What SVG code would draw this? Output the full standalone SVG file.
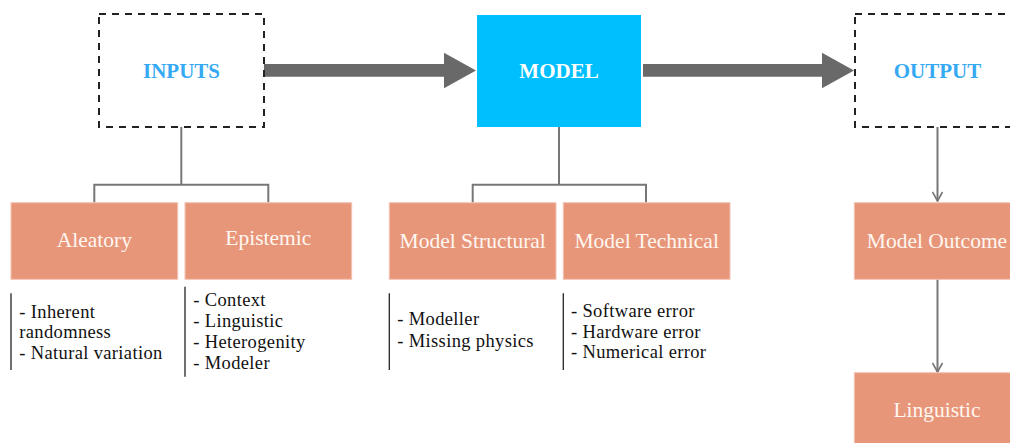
<svg xmlns="http://www.w3.org/2000/svg" width="1010" height="443" viewBox="0 0 1010 443">
  <style>
    .dash { fill: #ffffff; stroke: #222222; stroke-width: 2; stroke-dasharray: 7 6; }
    .title { font-family: "Liberation Serif", "Times New Roman", serif; font-weight: bold; font-size: 21px; text-anchor: middle; }
    .blue { fill: #36a9f4; }
    .cat { fill: #e8967a; stroke: #f3c3b3; stroke-width: 1; }
    .cat-label { font-family: "Liberation Serif", "Times New Roman", serif; font-size: 21.5px; fill: #fff6f0; text-anchor: middle; }
    .item { font-family: "Liberation Serif", "Times New Roman", serif; font-size: 18.5px; letter-spacing: 0.35px; fill: #111111; }
    .bar { stroke: #222222; stroke-width: 1.3; }
    .tree { fill: none; stroke: #777777; stroke-width: 2; }
    .big { fill: #696969; }
  </style>
  <defs>
    <marker id="vhead" viewBox="0 0 12 12" refX="10" refY="6" markerWidth="12" markerHeight="12" markerUnits="userSpaceOnUse" orient="auto">
      <path d="M1,1 L10,6 L1,11" fill="none" stroke="#777777" stroke-width="1.6"/>
    </marker>
  </defs>

  <!-- connectors -->
  <g id="connectors">
    <polygon class="big" points="264,64 444,64 444,52.7 476,70.5 444,88.3 444,76.7 264,76.7"/>
    <polygon class="big" points="643,64 822,64 822,52.7 854,70.5 822,88.3 822,76.7 643,76.7"/>
    <path class="tree" d="M181.3,127 V184.7 M94.3,202.7 V184.7 H268.3 V202.7"/>
    <path class="tree" d="M559,127 V184.7 M472.7,202.7 V184.7 H646 V202.7"/>
    <path class="tree" d="M937.5,127 V201" marker-end="url(#vhead)"/>
    <path class="tree" d="M937.5,279 V372" marker-end="url(#vhead)"/>
  </g>

  <!-- top row -->
  <g id="inputs">
    <rect class="dash" x="99" y="14" width="165" height="113"/>
    <text class="title blue" x="181.5" y="78">INPUTS</text>
  </g>
  <g id="model">
    <rect x="477" y="15" width="164" height="112" fill="#00bfff"/>
    <text class="title" x="559" y="78" fill="#ffffff">MODEL</text>
  </g>
  <g id="output">
    <rect class="dash" x="855" y="14" width="165" height="113"/>
    <text class="title blue" x="937.5" y="78">OUTPUT</text>
  </g>

  <!-- input uncertainty categories -->
  <g id="aleatory">
    <rect class="cat" x="11" y="202.7" width="166.7" height="76.6"/>
    <text class="cat-label" x="94.3" y="247">Aleatory</text>
  </g>
  <g id="epistemic">
    <rect class="cat" x="185" y="202.7" width="166.7" height="76.6"/>
    <text class="cat-label" x="268.3" y="245">Epistemic</text>
  </g>

  <!-- model uncertainty categories -->
  <g id="model-structural">
    <rect class="cat" x="389.3" y="202.7" width="166.7" height="76.6"/>
    <text class="cat-label" x="472.7" y="248">Model Structural</text>
  </g>
  <g id="model-technical">
    <rect class="cat" x="563.3" y="202.7" width="166.7" height="76.6"/>
    <text class="cat-label" x="646.7" y="248">Model Technical</text>
  </g>

  <!-- output uncertainty categories -->
  <g id="model-outcome">
    <rect class="cat" x="854.3" y="202.7" width="170" height="76.6"/>
    <text class="cat-label" x="937" y="248">Model Outcome</text>
  </g>
  <g id="linguistic">
    <rect class="cat" x="854.3" y="372.7" width="170" height="80"/>
    <text class="cat-label" x="937" y="417">Linguistic</text>
  </g>

  <!-- item lists -->
  <g id="aleatory-items">
    <line class="bar" x1="11" y1="293.3" x2="11" y2="370"/>
    <text class="item" x="19.3" y="317.5">- Inherent</text>
    <text class="item" x="19.3" y="338">randomness</text>
    <text class="item" x="19.3" y="358.5">- Natural variation</text>
  </g>
  <g id="epistemic-items">
    <line class="bar" x1="185" y1="286.7" x2="185" y2="376.7"/>
    <text class="item" x="193.3" y="305.5">- Context</text>
    <text class="item" x="193.3" y="326.8">- Linguistic</text>
    <text class="item" x="193.3" y="348">- Heterogenity</text>
    <text class="item" x="193.3" y="369.3">- Modeler</text>
  </g>
  <g id="structural-items">
    <line class="bar" x1="389.3" y1="293.3" x2="389.3" y2="370"/>
    <text class="item" x="397.3" y="325">- Modeller</text>
    <text class="item" x="397.3" y="346.7">- Missing physics</text>
  </g>
  <g id="technical-items">
    <line class="bar" x1="563.3" y1="293.3" x2="563.3" y2="370"/>
    <text class="item" x="571" y="316.7">- Software error</text>
    <text class="item" x="571" y="337.7">- Hardware error</text>
    <text class="item" x="571" y="358.3">- Numerical error</text>
  </g>
</svg>
